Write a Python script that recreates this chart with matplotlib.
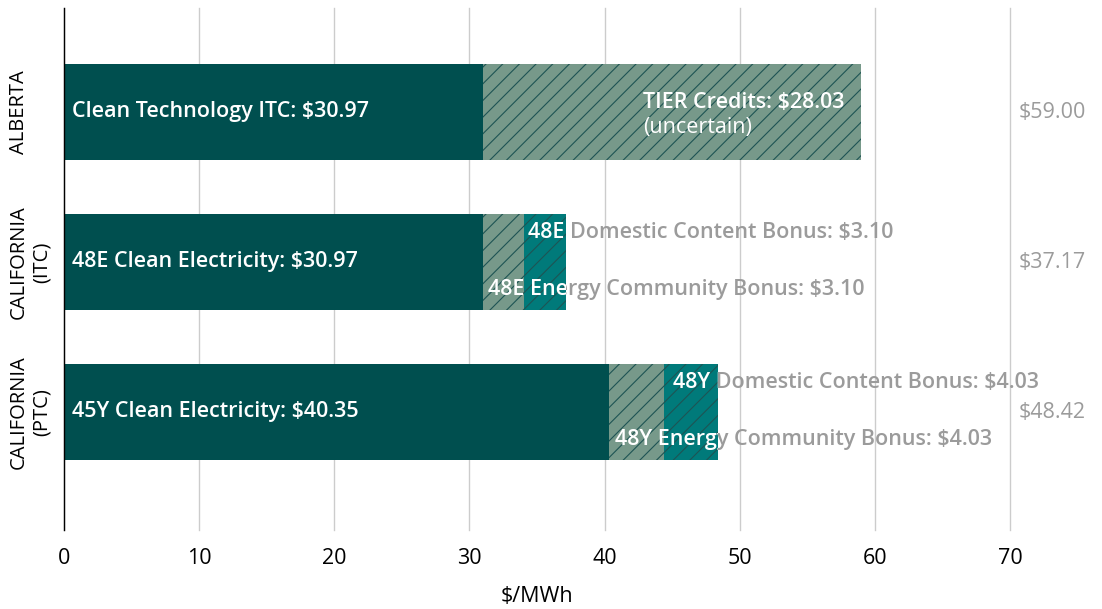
import matplotlib
matplotlib.use("Agg")
import matplotlib.pyplot as plt
from matplotlib.transforms import blended_transform_factory
from matplotlib.patches import Rectangle

plt.rcParams['font.family'] = ['Open Sans', 'DejaVu Sans']
plt.rcParams['hatch.linewidth'] = 0.8

categories = ["ALBERTA", "CALIFORNIA\n(ITC)", "CALIFORNIA\n(PTC)"]
base_vals = [30.97, 30.97, 40.35]
base_labels = ["Clean Technology ITC: $30.97", "48E Clean Electricity: $30.97",
               "45Y Clean Electricity: $40.35"]
second_vals = [28.03, 3.10, 4.03]
third_vals = [0.0, 3.10, 4.03]
totals = [59.00, 37.17, 48.42]
total_labels = ["$59.00", "$37.17", "$48.42"]
bonus_top = [None, "48E Domestic Content Bonus: $3.10", "48Y Domestic Content Bonus: $4.03"]
bonus_bottom = [None, "48E Energy Community Bonus: $3.10", "48Y Energy Community Bonus: $4.03"]
xticks = [0, 10, 20, 30, 40, 50, 60, 70]

DARK = "#004F4F"
GREEN = "#77998A"
TEAL = "#007A7A"
HATCH = "#1E5454"
GRAY = "#9B9B9B"
FS = 15.5

W, H = 1102, 609
fig = plt.figure(figsize=(W / 100, H / 100), dpi=100)
ax = fig.add_axes([64 / W, (H - 530) / H, (1010 - 64) / W, (530 - 8) / H])

y = list(range(len(categories)))
bh = 0.64

ax.barh(y, base_vals, height=bh, color=DARK, linewidth=0, zorder=2)
ax.barh(y, second_vals, left=base_vals, height=bh, color=GREEN, edgecolor=HATCH,
        hatch='//', linewidth=0, zorder=2)
left3 = [b + s for b, s in zip(base_vals, second_vals)]
ax.barh(y, third_vals, left=left3, height=bh, color=TEAL, edgecolor=HATCH,
        hatch='//', linewidth=0, zorder=2)

ax.set_xlim(0, 70)
ax.set_ylim(2 + (530 - 412) / 150, -(112 - 8) / 150)

ax.set_xticks(xticks)
ax.set_xticklabels([str(t) for t in xticks], fontsize=FS)
ax.tick_params(axis='x', length=0, pad=13)
ax.set_yticks([])
ax.grid(axis='x', color='#CCCCCC', linewidth=1, zorder=0)
for gl in ax.get_xgridlines():
    gl.set_clip_on(False)
ax.set_axisbelow(True)
for s in ['top', 'right', 'bottom']:
    ax.spines[s].set_visible(False)
ax.spines['left'].set_color('black')
ax.spines['left'].set_linewidth(1)
ax.set_xlabel("$/MWh", fontsize=FS, labelpad=12)

# category labels
tr = blended_transform_factory(fig.transFigure, ax.transData)
for i, c in enumerate(categories):
    ax.text(9 / W, y[i], c, transform=tr, rotation=90, ha='left', va='center',
            multialignment='center', fontsize=14.5, color='black')

# base labels
for i, lab in enumerate(base_labels):
    ax.text(0.6, y[i], lab, ha='left', va='center', color='white', fontsize=FS,
            fontweight='semibold', zorder=4)

# TIER label
ax.text(42.85, y[0] - 10 / 150, "TIER Credits: $28.03", ha='left', va='center', color='white',
        fontsize=FS, fontweight='semibold', zorder=4)
ax.text(42.85, y[0] + 15 / 150, "(uncertain)", ha='left', va='center', color='white',
        fontsize=FS, zorder=4)

# bonus labels (white inside bar, gray outside)
offsets_top = [0, 0.3, 0.65]
for i in range(1, 3):
    for lab, x0, dx, dy in [(bonus_top[i], left3[i], offsets_top[i], -0.195),
                            (bonus_bottom[i], base_vals[i], 0.4, 0.185)]:
        ax.text(x0 + dx, y[i] + dy, lab, ha='left', va='center', color=GRAY,
                fontsize=FS, fontweight='semibold', zorder=1, clip_on=False)
        clip = Rectangle((0, y[i] - bh / 2), totals[i], bh, transform=ax.transData)
        t = ax.text(x0 + dx, y[i] + dy, lab, ha='left', va='center', color='white',
                    fontsize=FS, fontweight='semibold', zorder=4)
        t.set_clip_path(clip)
        t.set_clip_on(True)

# totals
for i, lab in enumerate(total_labels):
    ax.text(73.1, y[i], lab, ha='center', va='center', color=GRAY, fontsize=FS,
            zorder=4, clip_on=False)

fig.savefig("out.png", dpi=100)
